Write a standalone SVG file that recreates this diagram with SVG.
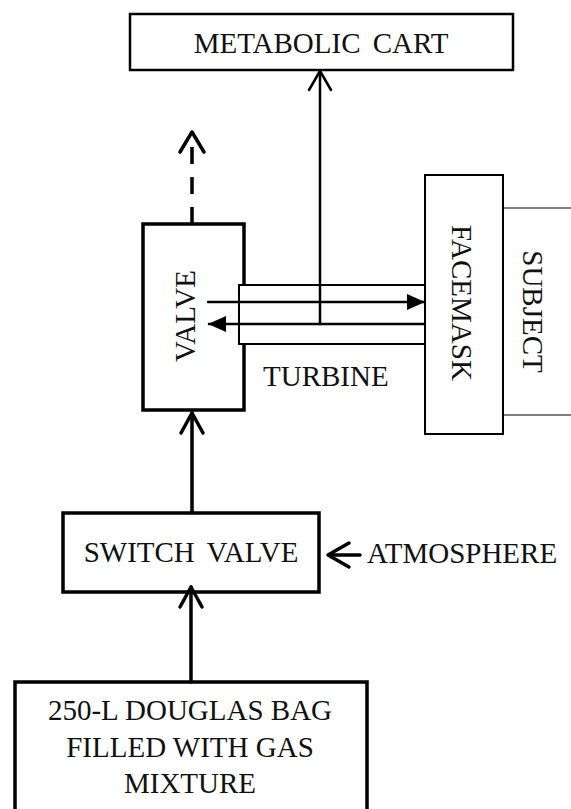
<svg xmlns="http://www.w3.org/2000/svg" width="571" height="809" viewBox="0 0 571 809">
<style>
  text { font-family: "Liberation Serif", "Times New Roman", serif; font-size: 29px; fill: #111; }
  .box { fill: #fff; stroke: #000; }
  .thick { stroke-width: 3.5; }
  .med { stroke-width: 2.5; }
  .thin { stroke-width: 2; }
  .line { fill: none; stroke: #000; }
  .ws { word-spacing: 5px; }
</style>
<defs>
  <marker id="tri" viewBox="0 0 18 16" refX="17" refY="8" markerWidth="18" markerHeight="16" markerUnits="userSpaceOnUse" orient="auto">
    <path d="M0,0 L18,8 L0,16 Z" fill="#000"/>
  </marker>
</defs>

<g id="metabolic-cart">
  <rect class="box med" x="130" y="14" width="383" height="56"/>
  <text class="ws" x="321" y="53" text-anchor="middle">METABOLIC CART</text>
</g>

<g id="valve">
  <rect class="box thick" x="143" y="224" width="101" height="186"/>
  <text transform="translate(195,316) rotate(-90)" text-anchor="middle">VALVE</text>
</g>

<g id="turbine">
  <rect class="box thin" x="239" y="285" width="186" height="59"/>
  <text x="263" y="386">TURBINE</text>
</g>

<g id="facemask">
  <rect class="box thin" x="425" y="175" width="78" height="259"/>
  <text transform="translate(452,303) rotate(90)" text-anchor="middle">FACEMASK</text>
</g>

<g id="subject">
  <path class="line" stroke-width="1.2" d="M503,208 H571 M503,415 H571"/>
  <text transform="translate(523,311.5) rotate(90)" text-anchor="middle">SUBJECT</text>
</g>

<g id="switch-valve">
  <rect class="box thick" x="63" y="513" width="256" height="79"/>
  <text class="ws" x="191" y="562" text-anchor="middle">SWITCH VALVE</text>
</g>

<g id="atmosphere">
  <text x="367" y="563">ATMOSPHERE</text>
</g>

<g id="douglas-bag">
  <rect class="box thick" x="15" y="682" width="352" height="150"/>
  <text x="190" y="720" text-anchor="middle">250-L DOUGLAS BAG</text>
  <text x="190" y="757" text-anchor="middle">FILLED WITH GAS</text>
  <text x="190" y="793" text-anchor="middle">MIXTURE</text>
</g>

<g id="connectors" class="line" stroke-linecap="round" stroke-linejoin="round">
  <!-- lead to metabolic cart -->
  <path stroke-width="2.5" d="M320,324 V71"/>
  <path stroke-width="2.5" d="M309,90 L320,71 L331,90"/>
  <!-- dashed exhaust from valve -->
  <path stroke-width="3.5" stroke-linecap="butt" stroke-dasharray="17 13" d="M192,224 V134"/>
  <path stroke-width="3.5" d="M180,152 L192,132 L204,152"/>
  <!-- turbine flow arrows -->
  <path stroke-width="2.5" marker-end="url(#tri)" d="M208,302 H424"/>
  <path stroke-width="2.5" marker-end="url(#tri)" d="M424,324 H209"/>
  <!-- switch valve to valve -->
  <path stroke-width="3.5" d="M192,513 V413"/>
  <path stroke-width="3.5" d="M181,433 L192,413 L203,433"/>
  <!-- atmosphere to switch valve -->
  <path stroke-width="3.5" d="M360,555 H329"/>
  <path stroke-width="3.5" d="M349,543 L328,555 L349,567"/>
  <!-- douglas bag to switch valve -->
  <path stroke-width="3.5" d="M191,682 V587"/>
  <path stroke-width="3.5" d="M180,607 L191,587 L202,607"/>
</g>
</svg>
